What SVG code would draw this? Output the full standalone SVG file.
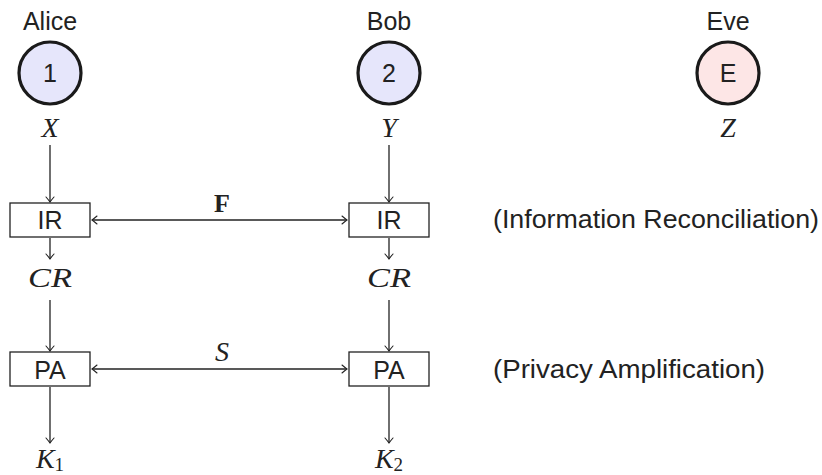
<svg xmlns="http://www.w3.org/2000/svg" width="822" height="475" viewBox="0 0 822 475">
<defs>
<marker id="to" viewBox="-6 -5 8 10" refX="0" refY="0" markerWidth="8" markerHeight="10" markerUnits="userSpaceOnUse" orient="auto-start-reverse">
<path d="M-5,-4 Q-1.5,-1 0,0 Q-1.5,1 -5,4" fill="none" stroke="#222" stroke-width="1.1" stroke-linecap="round"/>
</marker>
</defs>
<style>
.sans{font-family:"Liberation Sans","DejaVu Sans",sans-serif;font-size:25px;fill:#222}
.math{font-family:"Liberation Serif","DejaVu Serif",serif;font-style:italic;font-size:28px;fill:#222}
.sub{font-size:19px;font-style:normal}
.party{stroke:#1a1a1a;stroke-width:3.2}
.box{fill:#fff;stroke:#222;stroke-width:1.3}
.edge{stroke:#222;stroke-width:1.3;fill:none;marker-end:url(#to)}
.dbl{stroke:#222;stroke-width:1.3;fill:none;marker-end:url(#to);marker-start:url(#to)}
</style>
<rect width="822" height="475" fill="#fff"/>
<g id="alice">
<text class="sans" x="50" y="30" text-anchor="middle">Alice</text>
<circle class="party" cx="50" cy="73" r="31" fill="#e6e6fb"/>
<text class="sans" x="50" y="82" text-anchor="middle">1</text>
<text class="math" x="50" y="137" text-anchor="middle">X</text>
</g>
<g id="bob">
<text class="sans" x="389" y="30" text-anchor="middle">Bob</text>
<circle class="party" cx="389" cy="73" r="31" fill="#e6e6fb"/>
<text class="sans" x="389" y="82" text-anchor="middle">2</text>
<text class="math" x="389" y="137" text-anchor="middle">Y</text>
</g>
<g id="eve">
<text class="sans" x="728" y="30" text-anchor="middle">Eve</text>
<circle class="party" cx="728" cy="73" r="31" fill="#fde6e6"/>
<text class="sans" x="728" y="82" text-anchor="middle">E</text>
<text class="math" x="728" y="137" text-anchor="middle">Z</text>
</g>
<g id="ir1">
<rect class="box" x="10" y="203" width="80" height="34"/>
<text class="sans" x="50" y="229" text-anchor="middle">IR</text>
</g>
<g id="ir2">
<rect class="box" x="349" y="203" width="80" height="34"/>
<text class="sans" x="389" y="229" text-anchor="middle">IR</text>
</g>
<g id="cr1"><text class="math" x="50" y="287" text-anchor="middle" textLength="44" lengthAdjust="spacingAndGlyphs">CR</text></g>
<g id="cr2"><text class="math" x="389" y="287" text-anchor="middle" textLength="44" lengthAdjust="spacingAndGlyphs">CR</text></g>
<g id="pa1">
<rect class="box" x="10" y="352" width="80" height="34"/>
<text class="sans" x="50" y="379" text-anchor="middle">PA</text>
</g>
<g id="pa2">
<rect class="box" x="349" y="352" width="80" height="34"/>
<text class="sans" x="389" y="379" text-anchor="middle">PA</text>
</g>
<g id="k1"><text class="math" x="50" y="468" text-anchor="middle">K<tspan class="sub" dy="3">1</tspan></text></g>
<g id="k2"><text class="math" x="389" y="468" text-anchor="middle">K<tspan class="sub" dy="3">2</tspan></text></g>
<g id="labels">
<text class="sans" x="493" y="228" textLength="326" lengthAdjust="spacingAndGlyphs">(Information Reconciliation)</text>
<text class="sans" x="493" y="378" textLength="272" lengthAdjust="spacingAndGlyphs">(Privacy Amplification)</text>
</g>
<g id="connectors">
<line class="edge" x1="50" y1="145" x2="50" y2="202"/>
<line class="edge" x1="389" y1="145" x2="389" y2="202"/>
<line class="edge" x1="50" y1="238" x2="50" y2="259"/>
<line class="edge" x1="389" y1="238" x2="389" y2="259"/>
<line class="edge" x1="50" y1="300" x2="50" y2="351"/>
<line class="edge" x1="389" y1="300" x2="389" y2="351"/>
<line class="edge" x1="50" y1="387" x2="50" y2="443"/>
<line class="edge" x1="389" y1="387" x2="389" y2="443"/>
<line class="dbl" x1="92" y1="220" x2="347" y2="220"/>
<line class="dbl" x1="92" y1="369" x2="347" y2="369"/>
<text x="222" y="212" text-anchor="middle" style="font-family:'Liberation Serif','DejaVu Serif',serif;font-weight:bold;font-size:26px;fill:#222">F</text>
<text class="math" x="222" y="361" text-anchor="middle">S</text>
</g>
</svg>
